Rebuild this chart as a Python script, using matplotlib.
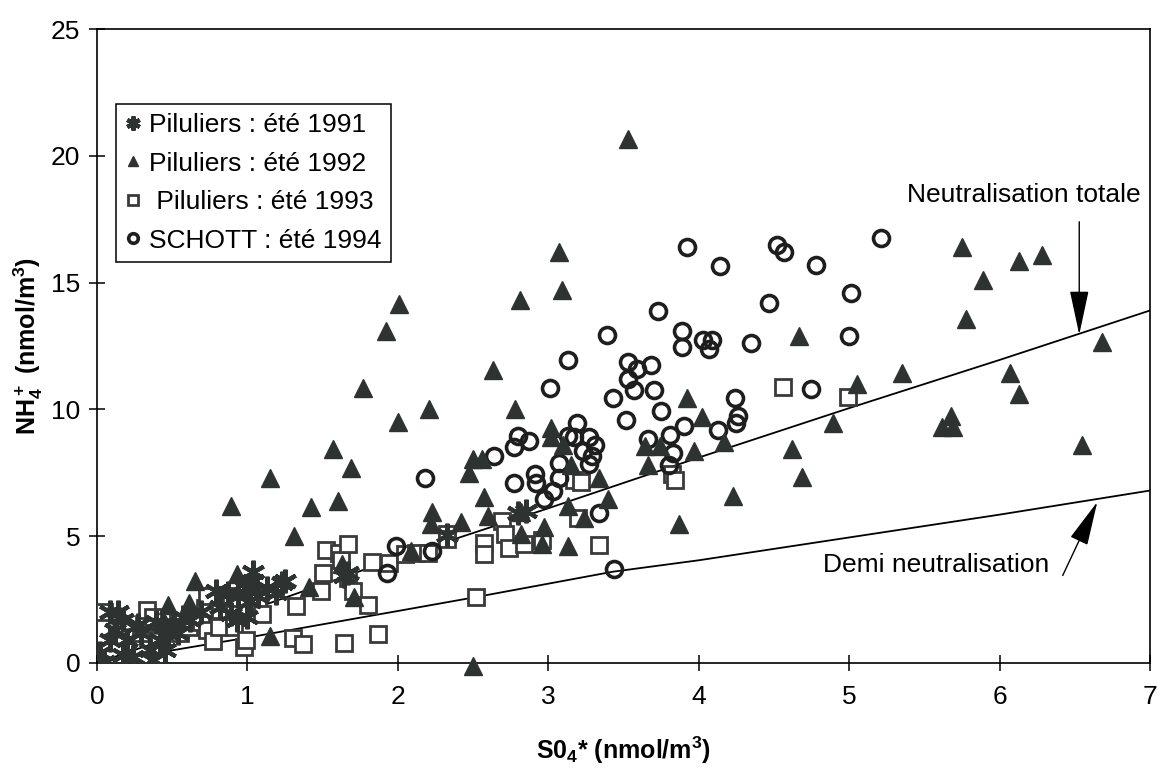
import numpy as np
import matplotlib
matplotlib.use('Agg')
import matplotlib.pyplot as plt

plt.rcParams['font.family'] = ['Liberation Sans', 'DejaVu Sans']
plt.rcParams['mathtext.fontset'] = 'custom'
plt.rcParams['mathtext.rm'] = 'Liberation Sans'
plt.rcParams['mathtext.bf'] = 'Liberation Sans:bold'
plt.rcParams['mathtext.default'] = 'bf'

# Piluliers : ete 1991 (asterisks)
p91_x = [0.02, 0.05, 0.09, 0.14, 0.17, 0.12, 0.09, 0.2, 0.17, 0.24,
         0.29, 0.27, 0.35, 0.37, 0.45, 0.42, 0.39, 0.47, 0.54, 0.62,
         0.57, 0.51, 0.44, 0.69, 0.79, 0.82, 0.87, 0.89, 0.93, 0.94,
         0.99, 1.0, 1.02, 1.04, 1.04, 1.07, 1.13, 1.19, 1.23, 1.25,
         1.64, 1.67, 2.33, 2.8, 2.85]
p91_y = [0.4, 0.05, 2.0, 2.0, 1.7, 1.3, 0.9, 0.9, 0.3, 0.25,
         1.2, 1.5, 0.5, 0.1, 0.5, 0.9, 1.6, 1.2, 1.2, 1.7,
         1.8, 1.55, 1.55, 2.0, 2.85, 2.2, 2.75, 1.95, 1.7, 2.65,
         2.95, 1.8, 2.45, 3.6, 3.25, 2.65, 2.95, 2.75, 3.15, 3.25,
         3.45, 3.55, 5.05, 5.9, 6.0]

# Piluliers : ete 1992 (filled triangles)
p92_x = [0.47, 0.61, 0.65, 0.89, 0.93, 1.15, 1.15, 1.31, 1.41, 1.42,
         1.57, 1.60, 1.63, 1.69, 1.71, 1.77, 1.92, 2.00, 2.01, 2.09,
         2.21, 2.23, 2.22, 2.42, 2.47, 2.50, 2.56, 2.50, 2.57, 2.60,
         2.63, 2.78, 2.81, 2.82, 2.82, 2.96, 2.97, 3.02, 3.02, 3.07,
         3.09, 3.10, 3.13, 3.13, 3.15, 3.24, 3.34, 3.40, 3.53, 3.64,
         3.74, 3.66, 3.87, 3.92, 3.97, 4.02, 4.17, 4.23, 4.62, 4.67,
         4.69, 4.89, 5.05, 5.35, 5.62, 5.69, 5.68, 5.75, 5.78, 5.89,
         6.07, 6.13, 6.13, 6.28, 6.55, 6.68]
p92_y = [2.3, 2.35, 3.25, 6.2, 3.5, 7.3, 1.05, 5.0, 3.0, 6.15,
         8.45, 6.4, 3.9, 7.7, 2.6, 10.85, 13.1, 9.5, 14.15, 4.4,
         10.0, 5.95, 5.5, 5.55, 7.5, 8.05, 8.05, -0.1, 6.55, 5.8,
         11.55, 10.0, 14.3, 5.95, 5.1, 4.7, 5.35, 9.25, 8.9, 16.2,
         14.7, 8.6, 4.6, 6.2, 7.8, 5.7, 7.3, 6.45, 20.65, 8.55,
         8.55, 7.8, 5.5, 10.45, 8.35, 9.7, 8.7, 6.6, 8.45, 12.9,
         7.35, 9.45, 11.0, 11.45, 9.3, 9.3, 9.75, 16.4, 13.55, 15.1,
         11.45, 10.6, 15.85, 16.1, 8.6, 12.65]

# Piluliers : ete 1993 (open squares)
p93_x = [0.05, 0.29, 0.31, 0.33, 0.37, 0.54, 0.55, 0.61, 0.67, 0.69,
         0.72, 0.73, 0.73, 0.77, 0.81, 0.82, 0.85, 0.89, 0.91, 0.91,
         0.98, 0.99, 1.0, 1.07, 1.1, 1.3, 1.32, 1.37, 1.49, 1.5,
         1.52, 1.61, 1.62, 1.64, 1.67, 1.67, 1.7, 1.8, 1.83, 1.87,
         1.94, 2.05, 2.12, 2.2, 2.33, 2.33, 2.52, 2.57, 2.57, 2.69,
         2.71, 2.74, 2.84, 2.96, 3.17, 3.22, 3.2, 3.34, 3.82, 3.84,
         4.56, 4.99]
p93_y = [2.0, 1.2, 1.55, 2.1, 1.8, 1.6, 1.2, 1.4, 1.7, 1.6,
         2.15, 2.65, 1.3, 0.85, 1.4, 2.1, 2.65, 2.35, 1.95, 1.4,
         0.65, 0.9, 2.2, 2.45, 1.95, 1.0, 2.25, 0.75, 2.85, 3.55,
         4.45, 4.35, 4.05, 0.8, 4.7, 3.35, 2.85, 2.3, 4.0, 1.15,
         3.95, 4.3, 4.35, 4.35, 5.1, 4.9, 2.6, 4.75, 4.3, 5.6,
         5.1, 4.55, 4.7, 4.85, 7.2, 7.15, 5.7, 4.65, 7.45, 7.2,
         10.9, 10.5]

# SCHOTT : ete 1994 (open circles)
s94_x = [3.92, 4.14, 4.52, 4.57, 4.78, 5.21, 3.73, 4.47, 5.01,
         3.39, 3.89, 3.89, 4.03, 4.09, 4.07, 4.35, 5.0, 4.75,
         3.13, 3.53, 3.59, 3.68, 3.53, 3.57, 3.70, 3.01, 3.43, 3.75,
         3.52, 4.24, 4.26, 4.25, 3.9, 3.81, 4.13, 3.66, 3.83, 3.8,
         3.19, 3.13, 3.17, 3.27, 3.31, 3.23, 3.29, 3.27,
         2.8, 2.87, 2.77, 2.64, 3.07, 2.91, 3.07, 3.03, 2.97, 2.92,
         2.77, 2.18, 3.34, 3.44, 1.99, 2.23, 1.93]
s94_y = [16.4, 15.65, 16.5, 16.2, 15.7, 16.75, 13.9, 14.2, 14.6,
         12.95, 13.1, 12.45, 12.75, 12.75, 12.4, 12.6, 12.9, 10.8,
         11.95, 11.85, 11.6, 11.75, 11.2, 10.75, 10.75, 10.85, 10.45, 9.95,
         9.6, 10.45, 9.75, 9.45, 9.35, 9.0, 9.2, 8.85, 8.3, 7.8,
         9.45, 8.95, 8.9, 8.9, 8.6, 8.35, 8.15, 7.85,
         8.95, 8.75, 8.5, 8.15, 7.9, 7.45, 7.3, 6.8, 6.45, 7.1,
         7.1, 7.3, 5.9, 3.7, 4.6, 4.4, 3.55]

# reference lines
tot_x = [0, 1.0, 2.0, 3.0, 4.0, 5.0, 6.0, 7.0]
tot_y = [0, 2.05, 4.15, 6.1, 8.1, 10.05, 11.95, 13.9]
demi_x = [0, 1.0, 2.0, 2.52, 3.43, 4.0, 5.0, 6.0, 7.0]
demi_y = [0, 1.0, 2.05, 2.6, 3.6, 4.05, 4.95, 5.85, 6.8]

dark = '#2e3331'

fig = plt.figure(figsize=(11.57, 7.72), dpi=100)
ax = fig.add_axes([0.0838, 0.1412, 0.9101, 0.8212])

ax.plot(tot_x, tot_y, color='k', lw=1.3, zorder=2)
ax.plot(demi_x, demi_y, color='k', lw=1.3, zorder=2)

ax.plot(p93_x, p93_y, ls='none', marker='s', ms=11, mfc='white',
        mec='#3a3a3a', mew=2.0, label=' Piluliers : été 1993', zorder=3)
ax.plot(s94_x, s94_y, ls='none', marker='o', ms=11.5, mfc='none',
        mec='#1e1e1e', mew=2.6, label='SCHOTT : été 1994', zorder=4)
ax.plot(p92_x, p92_y, ls='none', marker='^', ms=13, color=dark,
        mec=dark, label='Piluliers : été 1992', zorder=5, clip_on=False)
ax.plot(p91_x, p91_y, ls='none', marker=(6, 2, 0), ms=17, color=dark,
        mec=dark, mew=3.0, label='Piluliers : été 1991', zorder=6)

ax.set_xlim(0, 7)
ax.set_ylim(0, 25)
ax.set_xticks(np.arange(0, 8, 1))
ax.set_yticks(np.arange(0, 30, 5))
ax.tick_params(direction='inout', length=12, width=1.1, labelsize=19)
ax.tick_params(axis='x', pad=10)
ax.tick_params(axis='y', pad=6)
for s in ax.spines.values():
    s.set_linewidth(1.2)

ax.set_xlabel(r'S0$_4$* (nmol/m$^3$)', fontsize=18, fontweight='bold', labelpad=18)
ax.set_ylabel(r'NH$_4^+$ (nmol/m$^3$)', fontsize=18, fontweight='bold', labelpad=4)

# legend in the order of the original
h, l = ax.get_legend_handles_labels()
order = [3, 2, 0, 1]
leg = ax.legend([h[i] for i in order], [l[i] for i in order],
                loc='upper left', bbox_to_anchor=(0.018, 0.882),
                borderaxespad=0, fontsize=19, markerscale=0.6,
                handlelength=0.6, handletextpad=0.3, labelspacing=0.55,
                borderpad=0.35, fancybox=False, framealpha=1,
                edgecolor='k')
leg.get_frame().set_linewidth(1.1)

ax.text(6.16, 18.45, 'Neutralisation totale', fontsize=19,
        ha='center', va='center')
ax.annotate('', xy=(6.53, 12.95), xytext=(6.53, 17.4),
            arrowprops=dict(arrowstyle='-|>,head_length=1.4,head_width=0.3',
                            mutation_scale=20, lw=1, color='k', shrinkA=0, shrinkB=0))
ax.text(5.58, 3.85, 'Demi neutralisation', fontsize=19,
        ha='center', va='center')
ax.annotate('', xy=(6.65, 6.35), xytext=(6.42, 3.45),
            arrowprops=dict(arrowstyle='-|>,head_length=1.4,head_width=0.3',
                            mutation_scale=20, lw=1, color='k', shrinkA=0, shrinkB=0))

fig.savefig('out.png', dpi=100)
